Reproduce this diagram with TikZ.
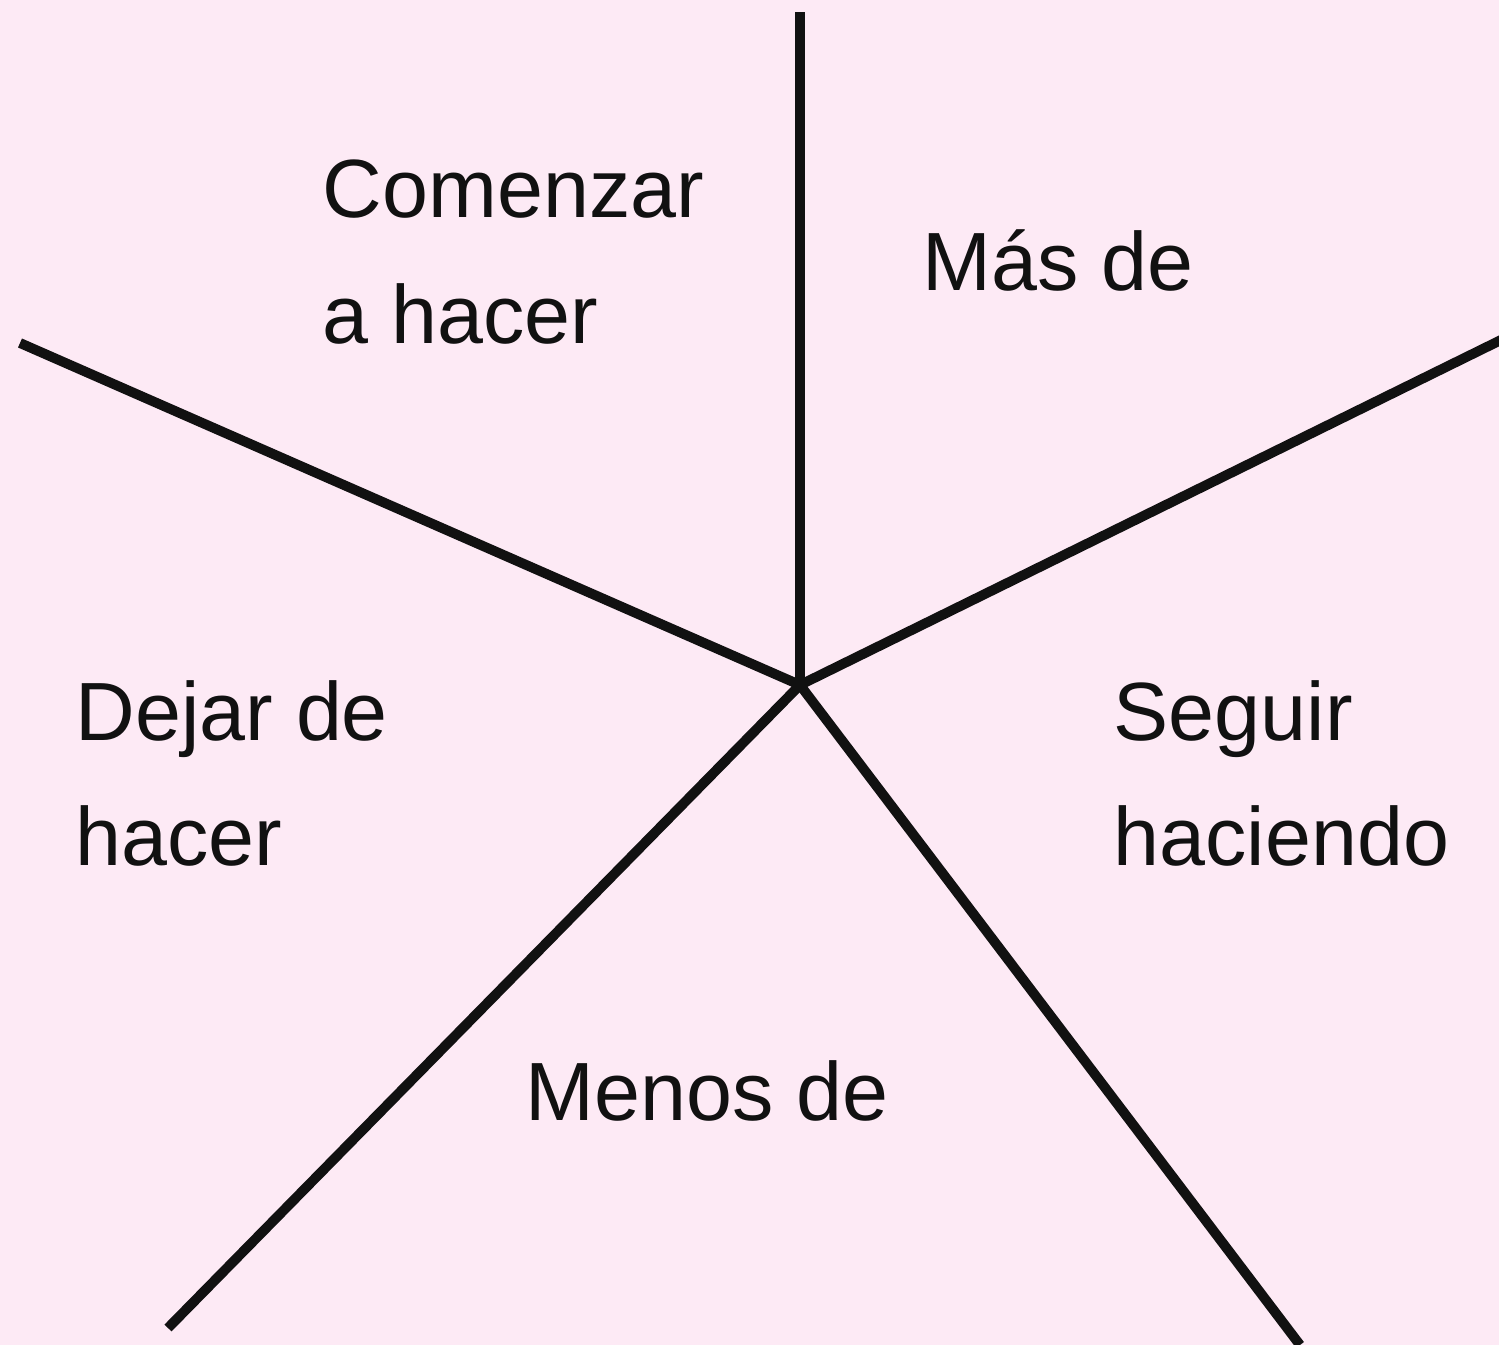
\documentclass[tikz,border=0pt]{standalone}
\usepackage{fontspec}
\setmainfont{Liberation Sans}
\definecolor{fondo}{HTML}{FDEAF5}
\definecolor{trazo}{HTML}{111111}
\tikzset{
  rayo/.style={draw=trazo, line width=2.8pt},
  rotulo/.style={anchor=base west, inner sep=0pt, font=\fontsize{23.5}{35}\selectfont, align=left, text=trazo}
}
\begin{document}
\begin{tikzpicture}[x=0.01cm, y=-0.01cm]
\fill[fondo] (0,0) rectangle (1499,1345);
\useasboundingbox (0,0) rectangle (1499,1345);
\coordinate (centro) at (800,685);
\coordinate (arriba) at (800,12);
\coordinate (izq) at (20,343);
\coordinate (der) at (1505,338);
\coordinate (abizq) at (168,1328);
\coordinate (abder) at (1300,1345);
\foreach \p in {arriba,izq,der,abizq,abder}
{
    \draw[rayo] (centro)--(\p);
}
\node[rotulo] (comenzar) at (322,217) {Comenzar};
\node[rotulo] (ahacer) at (322,343) {a hacer};
\node[rotulo] (mas) at (922,290) {Más de};
\node[rotulo] (dejar) at (75,740) {Dejar de};
\node[rotulo] (hacer) at (75,865) {hacer};
\node[rotulo] (seguir) at (1113,740) {Seguir};
\node[rotulo] (haciendo) at (1113,865) {haciendo};
\node[rotulo] (menos) at (525,1120) {Menos de};
\end{tikzpicture}
\end{document}
